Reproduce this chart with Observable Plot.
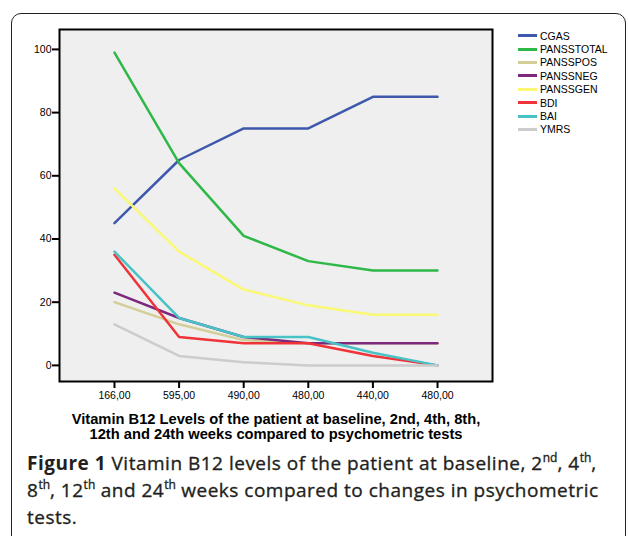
<!DOCTYPE html>
<html>
<head>
<meta charset="utf-8">
<script src="https://cdn.jsdelivr.net/npm/d3@7"></script>
<script src="https://cdn.jsdelivr.net/npm/@observablehq/plot@0.6"></script>
<style>
  html, body { margin: 0; padding: 0; background: #fff; overflow: hidden; }
  #wrap { position: relative; width: 628px; height: 536px; overflow: hidden; }
  #box { position: absolute; left: 11px; top: 13px; width: 615px; height: 600px;
         border: 1.5px solid #222; border-radius: 10px; box-sizing: border-box; }
  #chart { position: absolute; left: 0; top: 0; }
  #legend { position: absolute; left: 518px; top: 29px; font-family: "Liberation Sans", Arial, sans-serif;
            font-size: 10.5px; color: #000; }
  .row { height: 13.4px; display: flex; align-items: center; white-space: nowrap; }
  .sw { width: 19px; height: 3px; margin-right: 3px; }
  #xtitle { position: absolute; left: 60px; width: 432px; top: 412px; text-align: center;
            font-family: "Liberation Sans", Arial, sans-serif; font-weight: bold; font-size: 14.7px;
            line-height: 14.5px; color: #000; white-space: nowrap; }
  #caption { position: absolute; left: 27px; top: 450px; font-family: "Open Sans", "Noto Sans", sans-serif;
             font-size: 19px; line-height: 27px; color: #231f20; white-space: nowrap;
             letter-spacing: 0.5px; -webkit-text-stroke: 0.35px #231f20; }
  #caption b { -webkit-text-stroke: 0; }
  #caption sup { font-size: 12px; line-height: 0; position: relative; top: -1px; letter-spacing: 0; }
</style>
</head>
<body>
<div id="wrap">
  <div id="box"></div>
  <div id="chart"></div>
  <div id="legend"></div>
  <div id="xtitle">Vitamin B12 Levels of the patient at baseline, 2nd, 4th, 8th,<br>12th and 24th weeks compared to psychometric tests</div>
  <div id="caption"><b>Figure 1</b> Vitamin B12 levels of the patient at baseline, 2<sup>nd</sup>, 4<sup>th</sup>,<br>8<sup>th</sup>, 12<sup>th</sup> and 24<sup>th</sup> weeks compared to changes in psychometric<br>tests.</div>
</div>
<script>
const xLabels = ["166,00", "595,00", "490,00", "480,00", "440,00", "480,00"];
const seriesNames = ["CGAS", "PANSSTOTAL", "PANSSPOS", "PANSSNEG", "PANSSGEN", "BDI", "BAI", "YMRS"];
const seriesColors = ["#3e58ac", "#2eb848", "#d3ce97", "#7c287d", "#fbf873", "#ef3338", "#48c2c5", "#cccccc"];
const yTicks = [0, 20, 40, 60, 80, 100];

const CGAS       = [45, 65, 75, 75, 85, 85];
const PANSSTOTAL = [99, 64, 41, 33, 30, 30];
const PANSSPOS   = [20, 13, 8, 7, 7, 7];
const PANSSNEG   = [23, 15, 9, 7, 7, 7];
const PANSSGEN   = [56, 36, 24, 19, 16, 16];
const BDI        = [35, 9, 7, 7, 3, 0];
const BAI        = [36, 15, 9, 9, 4, 0];
const YMRS       = [13, 3, 1, 0, 0, 0];

const valuesBySeries = [CGAS, PANSSTOTAL, PANSSPOS, PANSSNEG, PANSSGEN, BDI, BAI, YMRS];
const data = seriesNames.flatMap((name, s) =>
  valuesBySeries[s].map((v, i) => ({series: name, x: i, y: v})));

const xIdx = xLabels.map((_, i) => i);

const chart = Plot.plot({
  width: 628,
  height: 440,
  marginLeft: 59,
  marginRight: 136,
  marginTop: 29,
  marginBottom: 59,
  style: {fontFamily: "'Liberation Sans', Arial, sans-serif", fontSize: "10.5px", color: "#000", background: "transparent"},
  x: {domain: [-0.851, 5.851], label: null},
  y: {domain: [-5.1, 106.3], label: null},
  color: {domain: seriesNames, range: seriesColors},
  marks: [
    Plot.frame({fill: "#efefef"}),
    Plot.line(data, {x: "x", y: "y", z: "series", stroke: "series", strokeWidth: 2.5}),
    Plot.frame({stroke: "#000", strokeWidth: 2}),
    Plot.axisX({ticks: xIdx, tickFormat: i => xLabels[i], tickSize: 7, tickPadding: 3, strokeWidth: 2, label: null}),
    Plot.axisY({ticks: yTicks, tickSize: 7, tickPadding: 1, strokeWidth: 2, label: null})
  ]
});
document.getElementById("chart").appendChild(chart);

const legend = document.getElementById("legend");
seriesNames.forEach((name, i) => {
  const row = document.createElement("div");
  row.className = "row";
  const sw = document.createElement("div");
  sw.className = "sw";
  sw.style.background = seriesColors[i];
  const t = document.createElement("span");
  t.textContent = name;
  row.appendChild(sw);
  row.appendChild(t);
  legend.appendChild(row);
});
</script>
</body>
</html>
